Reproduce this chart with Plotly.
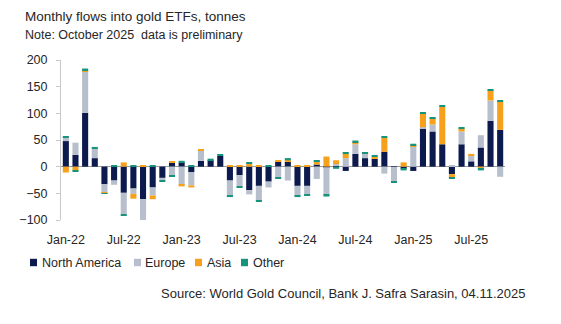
import pandas as pd
import plotly.graph_objects as go

# Monthly gold ETF flows by region, tonnes (Jan-22 .. Oct-25)
months = list(pd.date_range("2022-01-01", "2025-10-01", freq="MS").strftime("%b-%y"))

north_america = [48, 22, 101, 16, -33, -26, -49, -41, -61, -39, -21, 8,
                 8, -10, 11, 12, 20, -26, -16, -44, -36, -28, 9, 9,
                 -36, -36, 4, -1, 1, -8, 24, 16, 15, 28, 1, -4,
                 -8, 72, 66, 42, -14, 42, 10, 36, 86, 69]
europe = [7, 23, 78, 18, -16, -8, -40, -10, -41, -15, -4, -16,
          -34, -25, 19, 0, 0, -27, -21, -8, -27, -11, -20, -26,
          -18, -16, -23, -52, 4, 16, 18, 8, 1, -13, -27, 0,
          38, 2, 13, 0, 3, 24, 10, 23, 38, -19]
asia = [-11, -7, 2, 0, -1, 0, 8, -9, 2, -7, 0, 2,
        -3, -4, 2, 0, 0, 3, 3, 5, 3, 0, 3, 3,
        3, 3, 5, 19, 7, 8, 4, 0, 3, 26, 0, 8,
        2, 26, 12, 70, -7, 6, 4, -4, 19, 53]
other = [2, -3, 3, 3, -1, 3, -3, 3, -1, 3, -3, -2,
         3, 3, 0, 3, 3, -4, -2, 3, -3, 3, -3, 4,
         -3, -3, 3, -3, -4, 3, 3, 3, 3, 2, -3, -3,
         3, 2, 2, 2, -2, 2, 0, -3, 2, 2]

series_names = ["North America", "Europe", "Asia", "Other"]
series_values = [north_america, europe, asia, other]
series_colors = ["#0c1a4e", "#b8bfcc", "#f7a01c", "#16937a"]

tick_labels = months[::6]

FONT = "Liberation Sans"
TEXT = "#262626"

fig = go.Figure()
for name, vals, col in zip(series_names, series_values, series_colors):
    fig.add_bar(x=months, y=vals, name=name, marker=dict(color=col, line=dict(width=0)))

# plot area in pixels: x 61..505, y 60..220
L, R, T, B = 61, 505, 60, 220
W, H = 561, 324


def px(x):
    return (x - L) / (R - L)


def py(y):
    return (B - y) / (B - T)


fig.update_layout(
    width=W, height=H,
    margin=dict(l=L, r=W - R, t=T, b=H - B, pad=0),
    barmode="relative",
    bargap=0.37,
    showlegend=False,
    plot_bgcolor="white",
    paper_bgcolor="white",
    font=dict(family=FONT, size=12.5, color=TEXT),
)

fig.update_xaxes(
    type="category",
    range=[-0.5, len(months) - 0.5],
    tickmode="array",
    tickvals=tick_labels,
    ticktext=tick_labels,
    showline=False, showgrid=False, zeroline=False,
    ticks="",
    ticklabelstandoff=10,
    tickfont=dict(family=FONT, size=12.5, color=TEXT),
)

fig.update_yaxes(
    range=[-100, 200],
    dtick=50,
    showgrid=False,
    showline=True, linecolor="#c8c8c8", linewidth=1,
    ticks="outside", ticklen=4, tickcolor="#c8c8c8",
    zeroline=True, zerolinecolor="#9a9a9a", zerolinewidth=1,
    ticklabelstandoff=6,
    tickfont=dict(family=FONT, size=12.5, color=TEXT),
)

annotations = [
    dict(text="Monthly flows into gold ETFs, tonnes", x=px(23), y=py(17),
         font=dict(family=FONT, size=13.5, color=TEXT)),
    dict(text="Note: October 2025  data is preliminary", x=px(23), y=py(35),
         font=dict(family=FONT, size=12.5, color=TEXT)),
]
for a in annotations:
    a.update(xref="paper", yref="paper", xanchor="left", yanchor="middle", showarrow=False)

# legend row
legend_sq = [30, 134, 195, 241]
legend_txt = [40, 143, 205, 251]
leg_y = 262.5
shapes = []
for name, col, sx, tx in zip(series_names, series_colors, legend_sq, legend_txt):
    shapes.append(dict(type="rect", xref="paper", yref="paper",
                       x0=px(sx), x1=px(sx + 7), y0=py(leg_y + 3.7), y1=py(leg_y - 3.7),
                       fillcolor=col, line=dict(width=0)))
    annotations.append(dict(text=name, xref="paper", yref="paper", x=px(tx), y=py(leg_y),
                            xanchor="left", yanchor="middle", showarrow=False,
                            font=dict(family=FONT, size=12.5, color=TEXT)))

annotations.append(dict(text="Source: World Gold Council, Bank J. Safra Sarasin, 04.11.2025",
                        xref="paper", yref="paper", x=px(527), y=py(293),
                        xanchor="right", yanchor="middle", showarrow=False,
                        font=dict(family=FONT, size=13, color=TEXT)))

fig.update_layout(annotations=annotations, shapes=shapes)

fig.write_html("out.html")
